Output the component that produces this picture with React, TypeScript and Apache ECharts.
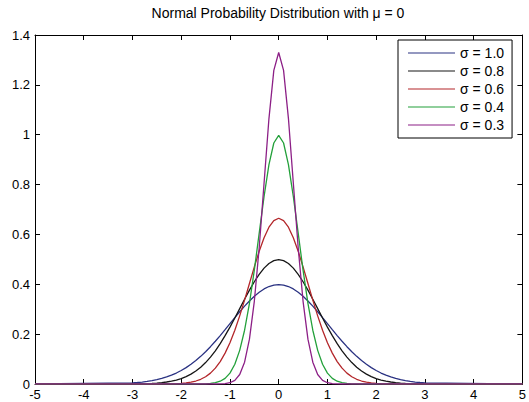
import React, { useEffect, useRef } from "react";
import * as echarts from "echarts";

const titleText = "Normal Probability Distribution with μ = 0";
const seriesNames = ["σ = 1.0", "σ = 0.8", "σ = 0.6", "σ = 0.4", "σ = 0.3"];
const seriesColors = ["#2a3282", "#161616", "#b3262a", "#23a03a", "#8c1f86"];

const xs = [
  -5, -3, -2.9, -2.8, -2.7, -2.6, -2.5, -2.4, -2.3, -2.2, -2.1, -2, -1.9, -1.8, -1.7, -1.6, -1.5, -1.4, -1.3, -1.2, -1.1,
  -1, -0.9, -0.8, -0.7, -0.6, -0.5, -0.4, -0.3, -0.2, -0.1, 0, 0.1, 0.2, 0.3, 0.4, 0.5, 0.6, 0.7, 0.8, 0.9, 1, 1.1,
  1.2, 1.3, 1.4, 1.5, 1.6, 1.7, 1.8, 1.9, 2, 2.1, 2.2, 2.3, 2.4, 2.5, 2.6, 2.7, 2.8, 2.9, 3, 5,
];

const sigma10 = [
  0, 0.0044, 0.006, 0.0079, 0.0104, 0.0136, 0.0175, 0.0224, 0.0283, 0.0355, 0.044, 0.054, 0.0656, 0.079, 0.094, 0.1109,
  0.1295, 0.1497, 0.1714, 0.1942, 0.2179, 0.242, 0.2661, 0.2897, 0.3123, 0.3332, 0.3521, 0.3683, 0.3814, 0.391, 0.397,
  0.3989, 0.397, 0.391, 0.3814, 0.3683, 0.3521, 0.3332, 0.3123, 0.2897, 0.2661, 0.242, 0.2179, 0.1942, 0.1714, 0.1497,
  0.1295, 0.1109, 0.094, 0.079, 0.0656, 0.054, 0.044, 0.0355, 0.0283, 0.0224, 0.0175, 0.0136, 0.0104, 0.0079, 0.006,
  0.0044, 0,
];

const sigma08 = [
  0, 0.0004, 0.0007, 0.0011, 0.0017, 0.0025, 0.0038, 0.0055, 0.008, 0.0114, 0.0159, 0.0219, 0.0297, 0.0397, 0.0522,
  0.0675, 0.086, 0.1079, 0.1332, 0.1619, 0.1938, 0.2283, 0.2649, 0.3025, 0.3401, 0.3764, 0.4102, 0.4401, 0.4648, 0.4834,
  0.4948, 0.4987, 0.4948, 0.4834, 0.4648, 0.4401, 0.4102, 0.3764, 0.3401, 0.3025, 0.2649, 0.2283, 0.1938, 0.1619,
  0.1332, 0.1079, 0.086, 0.0675, 0.0522, 0.0397, 0.0297, 0.0219, 0.0159, 0.0114, 0.008, 0.0055, 0.0038, 0.0025, 0.0017,
  0.0011, 0.0007, 0.0004, 0,
];

const sigma06 = [
  0, 0, 0, 0, 0, 0, 0.0001, 0.0002, 0.0004, 0.0008, 0.0015, 0.0026, 0.0044, 0.0074, 0.012, 0.019, 0.0292, 0.0437,
  0.0636, 0.09, 0.1239, 0.1658, 0.2159, 0.2733, 0.3366, 0.4033, 0.4698, 0.5324, 0.5868, 0.629, 0.6557, 0.6649, 0.6557,
  0.629, 0.5868, 0.5324, 0.4698, 0.4033, 0.3366, 0.2733, 0.2159, 0.1658, 0.1239, 0.09, 0.0636, 0.0437, 0.0292, 0.019,
  0.012, 0.0074, 0.0044, 0.0026, 0.0015, 0.0008, 0.0004, 0.0002, 0.0001, 0, 0, 0, 0, 0, 0,
];

const sigma04 = [
  0, 0, 0, 0, 0, 0, 0, 0, 0, 0, 0, 0, 0, 0, 0.0001, 0.0003, 0.0009, 0.0022, 0.0051, 0.0111, 0.0227, 0.0438, 0.0794,
  0.135, 0.2157, 0.3238, 0.4566, 0.6049, 0.7528, 0.8802, 0.9667, 0.9974, 0.9667, 0.8802, 0.7528, 0.6049, 0.4566,
  0.3238, 0.2157, 0.135, 0.0794, 0.0438, 0.0227, 0.0111, 0.0051, 0.0022, 0.0009, 0.0003, 0.0001, 0, 0, 0, 0, 0, 0, 0,
  0, 0, 0, 0, 0, 0, 0,
];

const sigma03 = [
  0, 0, 0, 0, 0, 0, 0, 0, 0, 0, 0, 0, 0, 0, 0, 0, 0, 0, 0.0001, 0.0004, 0.0016, 0.0051, 0.0148, 0.038, 0.0874, 0.18,
  0.3317, 0.5467, 0.8066, 1.0648, 1.2579, 1.3298, 1.2579, 1.0648, 0.8066, 0.5467, 0.3317, 0.18, 0.0874, 0.038, 0.0148,
  0.0051, 0.0016, 0.0004, 0.0001, 0, 0, 0, 0, 0, 0, 0, 0, 0, 0, 0, 0, 0, 0, 0, 0, 0, 0,
];

const allSeries = [sigma10, sigma08, sigma06, sigma04, sigma03];

export default function App() {
  const ref = useRef<HTMLDivElement>(null);
  useEffect(() => {
    if (!ref.current) return;
    const chart = echarts.init(ref.current, null, { renderer: "svg" });
    const font = "Arial, 'Liberation Sans', Helvetica, sans-serif";
    const tickLen = 5;
    chart.setOption({
      animation: false,
      backgroundColor: "#ffffff",
      title: {
        text: titleText,
        left: 278,
        textAlign: "center",
        top: 6,
        padding: 0,
        textStyle: { fontSize: 14, fontWeight: "normal", color: "#000", fontFamily: font },
      },
      grid: { left: 35, right: 5, top: 35, bottom: 18, containLabel: false },
      legend: {
        orient: "vertical",
        left: 398,
        top: 40,
        padding: [6, 8, 6, 10],
        itemWidth: 47,
        itemHeight: 14,
        itemGap: 4,
        backgroundColor: "#fff",
        borderColor: "#000",
        borderWidth: 1,
        borderRadius: 0,
        selectedMode: false,
        textStyle: { fontSize: 14, color: "#000", fontFamily: font },
        data: seriesNames.map((n) => ({ name: n, icon: "path://M0,0 L100,0 L100,2.5 L0,2.5 Z" })),
      },
      xAxis: [
        {
          type: "value",
          min: -5,
          max: 5,
          interval: 1,
          position: "bottom",
          splitLine: { show: false },
          axisLine: { show: true, onZero: false, lineStyle: { color: "#000", width: 1 } },
          axisTick: { show: true, inside: true, length: tickLen, lineStyle: { color: "#000" } },
          axisLabel: { fontSize: 13, color: "#000", fontFamily: font, margin: 4 },
        },
        {
          type: "value",
          min: -5,
          max: 5,
          interval: 1,
          position: "top",
          splitLine: { show: false },
          axisLine: { show: true, onZero: false, lineStyle: { color: "#000", width: 1 } },
          axisTick: { show: true, inside: true, length: tickLen, lineStyle: { color: "#000" } },
          axisLabel: { show: false },
        },
      ],
      yAxis: [
        {
          type: "value",
          min: 0,
          max: 1.4,
          interval: 0.2,
          position: "left",
          splitLine: { show: false },
          axisLine: { show: true, onZero: false, lineStyle: { color: "#000", width: 1 } },
          axisTick: { show: true, inside: true, length: tickLen, lineStyle: { color: "#000" } },
          axisLabel: { fontSize: 13, color: "#000", fontFamily: font, margin: 5 },
        },
        {
          type: "value",
          min: 0,
          max: 1.4,
          interval: 0.2,
          position: "right",
          splitLine: { show: false },
          axisLine: { show: true, onZero: false, lineStyle: { color: "#000", width: 1 } },
          axisTick: { show: true, inside: true, length: tickLen, lineStyle: { color: "#000" } },
          axisLabel: { show: false },
        },
      ],
      series: allSeries.map((ys, i) => ({
        name: seriesNames[i],
        type: "line",
        xAxisIndex: 0,
        yAxisIndex: 0,
        symbol: "none",
        smooth: false,
        color: seriesColors[i],
        lineStyle: { width: 1.3, color: seriesColors[i] },
        data: xs.map((x, j) => [x, ys[j]]),
      })),
    });
    return () => chart.dispose();
  }, []);
  return (
    <div
      ref={ref}
      style={{ position: "fixed", left: 0, top: 0, width: 529, height: 402, background: "#fff" }}
    />
  );
}
